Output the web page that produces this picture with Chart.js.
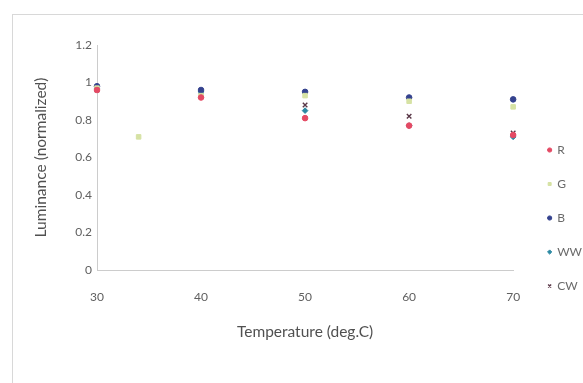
<!DOCTYPE html>
<html>
<head>
<meta charset="utf-8">
<script src="https://cdn.jsdelivr.net/npm/chart.js@4"></script>
<style>
  body { margin: 0; background: #fff; }
  #frame { position: absolute; left: 12px; top: 14px; width: 575px; height: 375px; border: 1px solid #d8d8d8; }
  #wrap { position: absolute; left: 0; top: 0; width: 583px; height: 383px; }
</style>
</head>
<body>
<div id="frame"></div>
<div id="wrap"><canvas id="chart" width="583" height="383"></canvas></div>
<script>
// temperatures (deg.C)
const temps = [30, 40, 50, 60, 70];

// normalized luminance per LED colour
const lumR  = [0.96, 0.92, 0.81, 0.77, 0.72];
const lumG  = [0.97, 0.93, 0.93, 0.90, 0.87];
const lumB  = [0.98, 0.96, 0.95, 0.92, 0.91];
const lumWW = [0.97, 0.95, 0.85, 0.77, 0.71];
const lumCW = [0.96, 0.93, 0.88, 0.82, 0.73];
// stray G point near 34 deg
const strayG = { x: 34, y: 0.71 };

const yTicks = [0, 0.2, 0.4, 0.6, 0.8, 1, 1.2];

const pts = (ys) => temps.map((t, i) => ({ x: t, y: ys[i] }));

// minor tick positions (1 deg on x, 0.04 on y) - only the majors get labels
const xMinor = [];
for (let t = 30; t <= 70; t++) xMinor.push(t);
const yMinor = [];
for (let i = 0; i <= 30; i++) yMinor.push(+(i * 0.04).toFixed(2));
const isMajorX = (v) => temps.includes(v);
const isMajorY = (v) => yTicks.some(t => Math.abs(t - v) < 1e-6);

// nudge the legend into the spot it has in the original
const legendShift = {
    id: "legendShift",
    afterLayout(chart) {
        const lg = chart.legend;
        lg.left += 13; lg.right += 13;
        lg.top += 24; lg.bottom += 24;
    }
};

const tickFont = { family: "Lato", size: 12 };
const titleFont = { family: "Lato", size: 15.5 };

const ctx = document.getElementById("chart");
new Chart(ctx, {
    type: "scatter",
    data: {
        datasets: [
            { label: "R",  data: pts(lumR),  backgroundColor: "#e44a64", borderColor: "#e44a64", pointStyle: "circle", pointRadius: 2.8 },
            { label: "G",  data: [...pts(lumG), strayG], backgroundColor: "#d6e2a4", borderColor: "#d6e2a4", pointStyle: "rect", pointRadius: 3.2 },
            { label: "B",  data: pts(lumB),  backgroundColor: "#34428e", borderColor: "#34428e", pointStyle: "circle", pointRadius: 2.8 },
            { label: "WW", data: pts(lumWW), backgroundColor: "#2a88a2", borderColor: "#2a88a2", pointStyle: "rectRot", pointRadius: 2.8 },
            { label: "CW", data: pts(lumCW), backgroundColor: "#5a3848", borderColor: "#5a3848", pointStyle: "crossRot", pointRadius: 3.2, borderWidth: 1.4 }
        ]
    },
    plugins: [legendShift],
    options: {
        responsive: false,
        animation: false,
        clip: false,
        layout: { padding: { top: 45, left: 28, right: 4, bottom: 40 } },
        plugins: {
            tooltip: { enabled: false },
            legend: {
                position: "right",
                labels: {
                    usePointStyle: true,
                    boxWidth: 3,
                    boxHeight: 3,
                    padding: 22,
                    color: "#6a6a6a",
                    font: tickFont
                }
            }
        },
        scales: {
            x: {
                type: "linear",
                min: 30, max: 70,
                afterBuildTicks: (s) => { s.ticks = xMinor.map(v => ({ value: v })); },
                grid: {
                    display: false, drawTicks: true, tickLength: 3,
                    tickColor: (c) => isMajorX(c.tick.value) ? "#b0b0b0" : "#dcdcdc"
                },
                border: { color: "#cccccc" },
                ticks: {
                    color: "#606060", padding: 17, font: tickFont, autoSkip: false, maxRotation: 0,
                    callback: (v) => isMajorX(v) ? String(v) : ""
                },
                title: { display: true, text: "Temperature (deg.C)", color: "#505050", font: titleFont, padding: { top: 4, bottom: 2 } },
                afterFit: (s) => { s.height = 73; }
            },
            y: {
                min: 0, max: 1.2,
                afterBuildTicks: (s) => { s.ticks = yMinor.map(v => ({ value: v })); },
                grid: {
                    display: false, drawTicks: true, tickLength: 3,
                    tickColor: (c) => isMajorY(c.tick.value) ? "#b0b0b0" : "#dcdcdc"
                },
                border: { color: "#cccccc" },
                ticks: {
                    color: "#606060", padding: 2, font: tickFont, autoSkip: false,
                    callback: (v) => isMajorY(v) ? String(+v.toFixed(2)) : ""
                },
                title: { display: true, text: "Luminance (normalized)", color: "#505050", font: titleFont },
                afterFit: (s) => { s.width = 69; }
            }
        }
    }
});
</script>
</body>
</html>
